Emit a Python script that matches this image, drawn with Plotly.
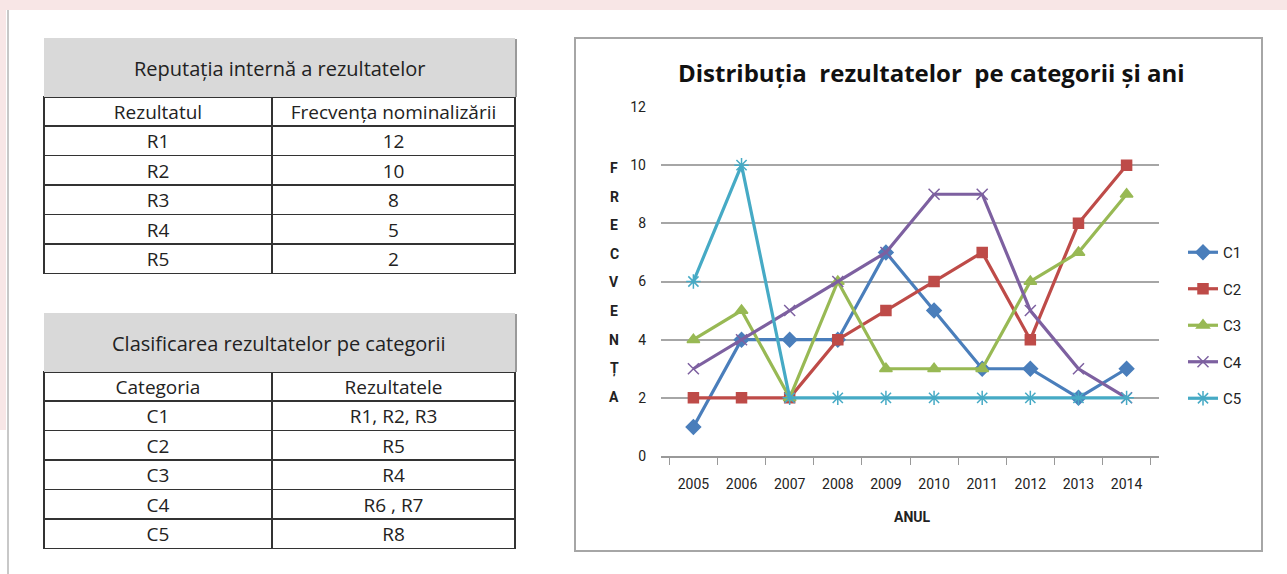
import plotly.graph_objects as go

W, H = 1287, 574

years = ["2005", "2006", "2007", "2008", "2009", "2010", "2011", "2012", "2013", "2014"]
c1 = [1, 4, 4, 4, 7, 5, 3, 3, 2, 3]
c2 = [2, 2, 2, 4, 5, 6, 7, 4, 8, 10]
c3 = [4, 5, 2, 6, 3, 3, 3, 6, 7, 9]
c4 = [3, 4, 5, 6, 7, 9, 9, 5, 3, 2]
c5 = [6, 10, 2, 2, 2, 2, 2, 2, 2, 2]

rez_names = ["R1", "R2", "R3", "R4", "R5"]
rez_freq = ["12", "10", "8", "5", "2"]
cat_names = ["C1", "C2", "C3", "C4", "C5"]
cat_rez = ["R1, R2, R3", "R5", "R4", "R6 , R7", "R8"]

FONT = "Liberation Sans Narrow, Roboto, sans-serif"
TFONT = "Open Sans, Noto Sans, sans-serif"


def px(x):
    return x / W


def py(y):
    return 1 - y / H


def label(x, y, text, font):
    fig.add_annotation(x=px(x), y=py(y), xref="paper", yref="paper",
                       xanchor="center", yanchor="middle",
                       text=text, showarrow=False, font=font)


fig = go.Figure()


# --- tables: gray title bar + two-column table ---
def add_table(title, head, col1, col2, top):
    fig.add_shape(type="rect", xref="paper", yref="paper",
                  x0=px(44), x1=px(515), y0=py(top + 59), y1=py(top),
                  fillcolor="#d9d9d9", line_width=0)
    fig.add_shape(type="line", xref="paper", yref="paper",
                  x0=px(516), x1=px(516), y0=py(top + 59), y1=py(top + 1),
                  line=dict(color="#9a9a9a", width=2))
    label(279, top + 30, title, dict(family=TFONT, size=20, color="#222"))
    fig.add_trace(go.Table(
        domain=dict(x=[px(44), px(515)], y=[py(top + 240), py(top + 59)]),
        columnwidth=[228, 243],
        header=dict(values=head, height=29, fill_color="white",
                    line=dict(color="#333", width=1.5),
                    font=dict(family=TFONT, size=19, color="#222"),
                    align="center"),
        cells=dict(values=[col1, col2], height=29.5, fill_color="white",
                   line=dict(color="#333", width=1.5),
                   font=dict(family=TFONT, size=19, color="#222"),
                   align="center"),
    ))


add_table("Reputația internă a rezultatelor", ["Rezultatul", "Frecvența nominalizării"],
          rez_names, rez_freq, 38)
add_table("Clasificarea rezultatelor pe categorii", ["Categoria", "Rezultatele"],
          cat_names, cat_rez, 313)

# --- line chart ---
series = [
    ("C1", c1, "#4a7ebb", "diamond", 11),
    ("C2", c2, "#be4b48", "square", 10),
    ("C3", c3, "#98b954", "triangle-up", 11),
    ("C4", c4, "#7d60a0", "x-thin-open", 11),
    ("C5", c5, "#46aac5", "asterisk-open", 12),
]
for name, vals, col, sym, sz in series:
    fig.add_trace(go.Scatter(
        x=years, y=vals, name=name, legendgroup=name, mode="lines+markers",
        line=dict(color=col, width=3.2),
        marker=dict(symbol=sym, size=sz, color=col, line=dict(color=col, width=1.5)),
    ))

fig.update_layout(
    template="none",
    width=W, height=H,
    margin=dict(l=0, r=0, t=0, b=0),
    paper_bgcolor="white", plot_bgcolor="white",
    font=dict(family=TFONT, size=13, color="#222"),
    xaxis=dict(domain=[px(661), px(1159)], type="category", showgrid=False,
               automargin=False,
               showline=True, linecolor="#999", linewidth=1.5,
               ticks="outside", tickson="boundaries", ticklen=7, tickcolor="#999",
               ticklabelstandoff=14,
               tickfont=dict(family=FONT, size=14, color="#222")),
    yaxis=dict(domain=[py(456), py(107)], range=[0, 12], dtick=2,
               automargin=False,
               showgrid=True, gridcolor="#a6a6a6", gridwidth=1.5, zeroline=False,
               showline=False, ticks="", ticklabelstandoff=14,
               tickfont=dict(family=FONT, size=14, color="#222")),
    legend=dict(x=px(1183), y=py(236), xanchor="left", yanchor="top",
                font=dict(family=FONT, size=15, color="#222"),
                traceorder="grouped", tracegroupgap=14,
                itemwidth=30, bgcolor="rgba(0,0,0,0)"),
    showlegend=True,
)

label(931, 73, "<b>Distribuția  rezultatelor  pe categorii și ani</b>",
      dict(family=TFONT, size=24, color="#111"))
label(912, 517, "<b>ANUL</b>", dict(family=FONT, size=14, color="#222"))
for i, ch in enumerate("FRECVENȚA"):
    label(614, 168 + i * 28.6, "<b>%s</b>" % ch, dict(family=FONT, size=14, color="#222"))

# chart frame and page edges
fig.add_shape(type="rect", xref="paper", yref="paper",
              x0=px(575), x1=px(1262), y0=py(551), y1=py(38),
              line=dict(color="#a6a6a6", width=2))
fig.add_shape(type="rect", xref="paper", yref="paper", layer="below",
              x0=0, x1=1, y0=py(10), y1=1, line_width=0, fillcolor="#f8e6e6")
fig.add_shape(type="rect", xref="paper", yref="paper", layer="below",
              x0=0, x1=px(6), y0=py(430), y1=1, line_width=0, fillcolor="#f8e6e6")
fig.add_shape(type="line", xref="paper", yref="paper",
              x0=px(8), x1=px(8), y0=0, y1=py(10), line=dict(color="#c8c8c8", width=2))

fig.write_html("out.html", config={"displayModeBar": False},
               post_script="document.body.style.margin='0';"
                           "document.body.style.overflow='hidden';")
